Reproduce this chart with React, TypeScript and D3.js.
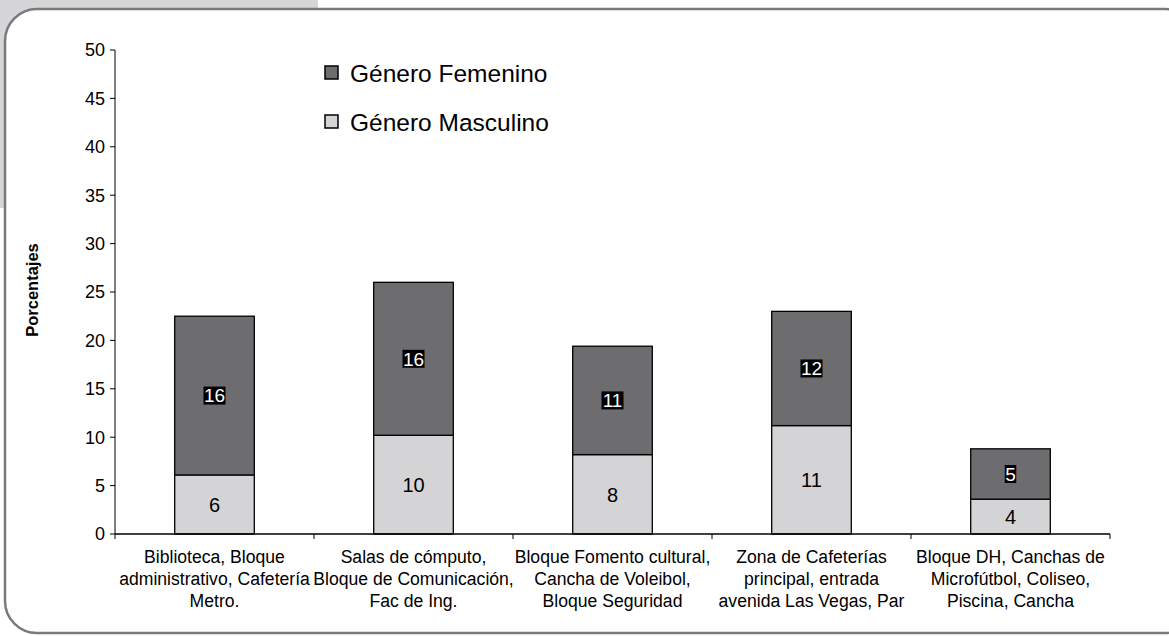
import React from "react";
import * as d3 from "d3";

const categories: string[][] = [
  ["Biblioteca, Bloque", "administrativo, Cafetería", "Metro."],
  ["Salas de cómputo,", "Bloque de Comunicación,", "Fac de Ing."],
  ["Bloque Fomento cultural,", "Cancha de Voleibol,", "Bloque Seguridad"],
  ["Zona de Cafeterías", "principal, entrada", "avenida Las Vegas, Par"],
  ["Bloque DH, Canchas de", "Microfútbol, Coliseo,", "Piscina, Cancha"],
];
const masculino: number[] = [6.1, 10.2, 8.2, 11.2, 3.6];
const femenino: number[] = [16.4, 15.8, 11.2, 11.8, 5.2];
const yTicks: number[] = [0, 5, 10, 15, 20, 25, 30, 35, 40, 45, 50];
const legendLabels: string[] = ["Género Femenino", "Género Masculino"];

const FONT = "Liberation Sans";
const FEM = "#6d6d6f";
const MASC = "#d4d4d6";

export default function App() {
  const W = 1169, H = 636;
  const x0 = 115, x1 = 1110, yTop = 50, yBot = 534;
  const x = d3.scaleBand<number>().domain(d3.range(categories.length)).range([x0, x1]).padding(0);
  const y = d3.scaleLinear().domain([0, 50]).range([yBot, yTop]);
  const bw = x.bandwidth() * 0.4;

  return (
    <div style={{ position: "absolute", left: 0, top: 0 }}>
      <svg width={W} height={H} style={{ display: "block" }} fontFamily={FONT}>
        <rect x={0} y={0} width={W} height={H} fill="#ffffff" />
        <rect x={0} y={0} width={318} height={208} fill="#d6d6d8" />
        <rect x={5} y={9} width={1192} height={624} rx={32} ry={32} fill="#ffffff" stroke="#7a7a7c" strokeWidth={2.5} />

        {/* y axis */}
        <line x1={x0} x2={x0} y1={yTop} y2={yBot} stroke="#000" strokeWidth={1} />
        {yTicks.map((t) => (
          <g key={t}>
            <line x1={x0 - 5} x2={x0} y1={y(t)} y2={y(t)} stroke="#000" strokeWidth={1} />
            <text x={x0 - 10} y={y(t)} dy="0.35em" textAnchor="end" fontSize={18} fontFamily={FONT} fill="#000">{t}</text>
          </g>
        ))}
        <text transform={`translate(38,290) rotate(-90)`} textAnchor="middle" fontSize={16.5} fontWeight="bold" fontFamily={FONT} fill="#000">Porcentajes</text>

        {/* bars */}
        {categories.map((c, i) => {
          const cx = (x(i) as number) + x.bandwidth() / 2;
          const m = masculino[i];
          const f = femenino[i];
          const mTop = y(m);
          const fTop = y(m + f);
          const fMid = (fTop + mTop) / 2;
          const mMid = (mTop + yBot) / 2;
          const fl = String(Math.round(f));
          const lw = fl.length * 10.5 + 1;
          return (
            <g key={i}>
              <rect x={cx - bw / 2} y={mTop} width={bw} height={yBot - mTop} fill={MASC} stroke="#000" strokeWidth={1.3} />
              <rect x={cx - bw / 2} y={fTop} width={bw} height={mTop - fTop} fill={FEM} stroke="#000" strokeWidth={1.3} />
              <text x={cx} y={mMid} dy="0.36em" textAnchor="middle" fontSize={20} fontFamily={FONT} fill="#000">{Math.round(m)}</text>
              <rect x={cx - lw / 2} y={fMid - 9} width={lw} height={18} fill="#000" />
              <text x={cx} y={fMid} dy="0.36em" textAnchor="middle" fontSize={19} fontFamily={FONT} fill="#fff">{fl}</text>
            </g>
          );
        })}

        {/* x axis */}
        <line x1={x0} x2={x1} y1={yBot} y2={yBot} stroke="#000" strokeWidth={1.3} />
        {d3.range(categories.length + 1).map((i) => {
          const xx = i < categories.length ? (x(i) as number) : x1;
          return <line key={i} x1={xx} x2={xx} y1={yBot} y2={yBot + 5} stroke="#000" strokeWidth={1} />;
        })}
        {categories.map((lines, i) => {
          const cx = (x(i) as number) + x.bandwidth() / 2;
          return (
            <text key={i} x={cx} textAnchor="middle" fontSize={17.6} fontFamily={FONT} fill="#000">
              {lines.map((l, j) => (
                <tspan key={j} x={cx} y={563 + j * 22}>{l}</tspan>
              ))}
            </text>
          );
        })}

        {/* legend */}
        {legendLabels.map((l, i) => {
          const ly = 73 + i * 49;
          return (
            <g key={l}>
              <rect x={325} y={ly - 7} width={13} height={13} fill={i === 0 ? FEM : MASC} stroke="#000" strokeWidth={1.5} />
              <text x={350} y={ly} dy="0.36em" fontSize={24.5} fontFamily={FONT} fill="#000">{l}</text>
            </g>
          );
        })}
      </svg>
    </div>
  );
}
